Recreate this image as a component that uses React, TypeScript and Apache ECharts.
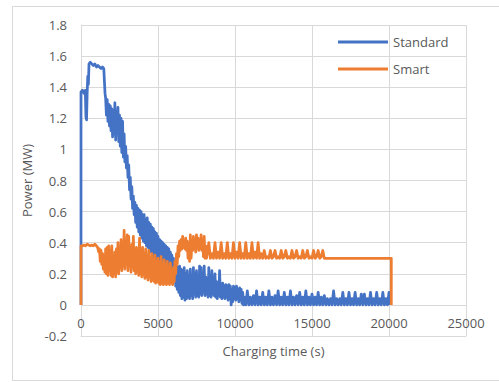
import React, { useEffect, useRef } from "react";
import * as echarts from "echarts";

const seriesNames = ["Standard", "Smart"];
const xTicks = { min: 0, max: 25000, interval: 5000 };
const yTicks = { min: -0.2, max: 1.8, interval: 0.2 };

// [charging time (s), power (MW)]
const standardData: number[][] = [
  [0, 0], [0, 1.37], [100, 1.38], [200, 1.36], [280, 1.38], [320, 1.21], [360, 1.19], [400, 1.36], [440, 1.47], [480, 1.42],
  [520, 1.55], [600, 1.56], [700, 1.55], [800, 1.54], [900, 1.55], [1000, 1.53], [1100, 1.54], [1200, 1.53], [1300, 1.52], [1400, 1.53],
  [1480, 1.52], [1520, 1.44], [1560, 1.36],
  [1600, 1.33], [1650, 1.22], [1700, 1.32], [1750, 1.18], [1800, 1.29], [1850, 1.15], [1900, 1.28], [1950, 1.12], [2000, 1.26], [2050, 1.08],
  [2100, 1.25], [2150, 1.1], [2200, 1.3], [2250, 1.06], [2300, 1.24], [2350, 1.12], [2400, 1.27], [2450, 1.05], [2500, 1.22], [2550, 1.02],
  [2600, 1.2], [2650, 0.98], [2700, 1.18], [2750, 0.95], [2800, 1.1], [2850, 0.92], [2900, 1.02], [2950, 0.88], [3000, 0.96], [3050, 0.82],
  [3100, 0.9], [3150, 0.74], [3200, 0.82], [3250, 0.68], [3300, 0.76], [3350, 0.62], [3400, 0.7], [3450, 0.58], [3500, 0.66], [3550, 0.53],
  [3600, 0.64], [3650, 0.5], [3700, 0.62], [3750, 0.47], [3800, 0.61], [3850, 0.45], [3900, 0.6], [3950, 0.43], [4000, 0.58], [4050, 0.41],
  [4100, 0.58], [4150, 0.4], [4200, 0.55], [4250, 0.38], [4300, 0.56], [4350, 0.37], [4400, 0.53], [4450, 0.36], [4500, 0.52], [4550, 0.34],
  [4600, 0.5], [4650, 0.33], [4700, 0.49], [4750, 0.31], [4800, 0.47], [4850, 0.3], [4900, 0.46], [4950, 0.28], [5000, 0.44], [5050, 0.27],
  [5100, 0.42], [5150, 0.26], [5200, 0.41], [5250, 0.24], [5300, 0.4], [5350, 0.23], [5400, 0.39], [5450, 0.22], [5500, 0.38], [5550, 0.21],
  [5600, 0.37], [5650, 0.2], [5700, 0.36], [5750, 0.19], [5800, 0.34], [5850, 0.17], [5900, 0.32], [5950, 0.16], [6000, 0.3], [6050, 0.15],
  [6100, 0.27], [6150, 0.12], [6200, 0.25], [6250, 0.1], [6300, 0.24], [6350, 0.08], [6400, 0.25], [6450, 0.06], [6500, 0.23], [6550, 0.04],
  [6600, 0.22], [6650, 0.05], [6700, 0.24], [6750, 0.03], [6800, 0.2], [6850, 0.04], [6900, 0.22], [6950, 0.05], [7000, 0.19], [7050, 0.04],
  [7100, 0.23], [7150, 0.06], [7200, 0.18], [7250, 0.04], [7300, 0.24], [7350, 0.07], [7400, 0.2], [7450, 0.05], [7500, 0.22], [7550, 0.06],
  [7600, 0.17], [7650, 0.05], [7700, 0.25], [7750, 0.07], [7800, 0.24], [7850, 0.06], [7900, 0.19], [7950, 0.08], [8000, 0.25], [8050, 0.06],
  [8100, 0.18], [8150, 0.07], [8200, 0.16], [8250, 0.05], [8300, 0.24], [8350, 0.06], [8400, 0.15], [8450, 0.05], [8500, 0.22], [8550, 0.07],
  [8600, 0.14], [8650, 0.06], [8700, 0.2], [8750, 0.05], [8800, 0.15], [8850, 0.04], [8900, 0.14], [8950, 0.06], [9000, 0.22], [9050, 0.05],
  [9100, 0.13], [9150, 0.04], [9200, 0.14], [9250, 0.05], [9300, 0.12], [9350, 0.04], [9400, 0.13], [9450, 0.05], [9500, 0.12], [9550, 0.03],
  [9600, 0.13], [9650, 0.04], [9700, 0.12], [9750, 0.0], [9800, 0.1], [9850, 0.02], [9900, 0.12], [9950, 0.04], [10000, 0.11], [10050, 0.03],
  [10100, 0.12], [10150, 0.04], [10200, 0.1], [10250, 0.02], [10300, 0.11], [10350, 0.03], [10400, 0.1], [10450, 0.01], [10500, 0.08], [10550, 0.0],
  [10600, 0.05], [10700, 0.0], [10800, 0.09], [10900, 0.0], [11000, 0.05], [11100, 0.0], [11200, 0.06], [11300, 0.0], [11400, 0.09], [11500, 0.0],
  [11600, 0.05], [11700, 0.0], [11800, 0.08], [11900, 0.0], [12000, 0.05], [12100, 0.0], [12200, 0.09], [12300, 0.0], [12400, 0.05], [12500, 0.0],
  [12600, 0.06], [12700, 0.0], [12800, 0.09], [12900, 0.0], [13000, 0.05], [13100, 0.0], [13200, 0.08], [13300, 0.0], [13400, 0.05], [13500, 0.0],
  [13600, 0.09], [13700, 0.0], [13800, 0.05], [13900, 0.0], [14000, 0.06], [14100, 0.0], [14200, 0.08], [14300, 0.0], [14400, 0.05], [14500, 0.0],
  [14600, 0.09], [14700, 0.0], [14800, 0.05], [14900, 0.0], [15000, 0.07], [15100, 0.0], [15200, 0.05], [15300, 0.0], [15400, 0.08], [15500, 0.0],
  [15600, 0.05], [15700, 0.0], [15800, 0.06], [15900, 0.0], [16000, 0.04], [16100, 0.0], [16200, 0.04], [16300, 0.0], [16400, 0.09], [16500, 0.0],
  [16600, 0.04], [16700, 0.0], [16800, 0.04], [16900, 0.0], [17000, 0.08], [17100, 0.0], [17200, 0.04], [17300, 0.0], [17400, 0.08], [17500, 0.0],
  [17600, 0.04], [17700, 0.0], [17800, 0.08], [17900, 0.0], [18000, 0.04], [18100, 0.0], [18200, 0.07], [18300, 0.0], [18400, 0.07], [18500, 0.0],
  [18600, 0.04], [18700, 0.0], [18800, 0.08], [18900, 0.0], [19000, 0.04], [19100, 0.0], [19200, 0.08], [19300, 0.0], [19400, 0.04], [19500, 0.0],
  [19600, 0.08], [19700, 0.0], [19800, 0.04], [19900, 0.0], [20000, 0.08], [20050, 0.0],
];

const smartData: number[][] = [
  [0, 0], [0, 0.38], [100, 0.38], [200, 0.385], [300, 0.38], [400, 0.39], [500, 0.385], [600, 0.38], [700, 0.385], [800, 0.38],
  [900, 0.39], [1000, 0.38], [1080, 0.37], [1150, 0.34],
  [1200, 0.36], [1250, 0.28], [1300, 0.35], [1350, 0.26], [1400, 0.33], [1450, 0.23], [1500, 0.31], [1550, 0.21], [1600, 0.36], [1650, 0.2],
  [1700, 0.37], [1750, 0.19], [1800, 0.38], [1850, 0.22], [1900, 0.35], [1950, 0.19], [2000, 0.38], [2050, 0.18], [2100, 0.3], [2150, 0.2],
  [2200, 0.34], [2250, 0.18], [2300, 0.36], [2350, 0.21], [2400, 0.4], [2450, 0.2], [2500, 0.37], [2550, 0.24], [2600, 0.42], [2650, 0.22],
  [2700, 0.38], [2750, 0.25], [2800, 0.48], [2850, 0.23], [2900, 0.4], [2950, 0.26], [3000, 0.45], [3050, 0.22], [3100, 0.44], [3150, 0.25],
  [3200, 0.36], [3250, 0.21], [3300, 0.39], [3350, 0.24], [3400, 0.44], [3450, 0.22], [3500, 0.36], [3550, 0.2], [3600, 0.37], [3650, 0.21],
  [3700, 0.34], [3750, 0.19], [3800, 0.43], [3850, 0.2], [3900, 0.35], [3950, 0.18], [4000, 0.37], [4050, 0.19], [4100, 0.33], [4150, 0.17],
  [4200, 0.36], [4250, 0.18], [4300, 0.31], [4350, 0.16], [4400, 0.35], [4450, 0.18], [4500, 0.3], [4550, 0.15], [4600, 0.33], [4650, 0.16],
  [4700, 0.29], [4750, 0.15], [4800, 0.32], [4850, 0.14], [4900, 0.28], [4950, 0.15], [5000, 0.3], [5050, 0.14], [5100, 0.27], [5150, 0.13],
  [5200, 0.31], [5250, 0.14], [5300, 0.26], [5350, 0.13], [5400, 0.29], [5450, 0.14], [5500, 0.25], [5550, 0.13], [5600, 0.28], [5650, 0.14],
  [5700, 0.24], [5750, 0.13], [5800, 0.27], [5850, 0.14], [5900, 0.22], [5950, 0.13], [6000, 0.24], [6050, 0.15], [6100, 0.28], [6150, 0.2],
  [6200, 0.33], [6250, 0.26], [6300, 0.38], [6350, 0.31], [6400, 0.41], [6450, 0.35], [6500, 0.42], [6550, 0.36], [6600, 0.44], [6650, 0.37],
  [6700, 0.4], [6750, 0.36], [6800, 0.43], [6850, 0.35], [6900, 0.41], [6950, 0.3], [7000, 0.38], [7050, 0.28], [7100, 0.45], [7150, 0.3],
  [7200, 0.4], [7250, 0.35], [7300, 0.44], [7350, 0.36], [7400, 0.41], [7450, 0.34], [7500, 0.45], [7550, 0.37], [7600, 0.43], [7650, 0.35],
  [7700, 0.4], [7750, 0.36], [7800, 0.45], [7850, 0.35], [7900, 0.42], [7950, 0.31], [8000, 0.44], [8050, 0.3], [8100, 0.38], [8150, 0.3],
  [8200, 0.33], [8300, 0.4], [8400, 0.3], [8500, 0.33], [8600, 0.3], [8700, 0.4], [8800, 0.3], [8900, 0.34], [9000, 0.3], [9100, 0.4],
  [9200, 0.3], [9300, 0.33], [9400, 0.3], [9500, 0.4], [9600, 0.3], [9700, 0.33], [9800, 0.3], [9900, 0.4], [10000, 0.3], [10100, 0.34],
  [10200, 0.3], [10300, 0.4], [10400, 0.3], [10500, 0.33], [10600, 0.3], [10700, 0.4], [10800, 0.3], [10900, 0.33], [11000, 0.3], [11100, 0.4],
  [11200, 0.3], [11300, 0.34], [11400, 0.3], [11500, 0.4], [11600, 0.3], [11700, 0.33], [11800, 0.3],
  [11900, 0.35], [12000, 0.3], [12100, 0.31], [12200, 0.3], [12300, 0.35], [12400, 0.3], [12500, 0.31], [12600, 0.35], [12700, 0.3], [12800, 0.31],
  [12900, 0.3], [13000, 0.35], [13100, 0.3], [13200, 0.31], [13300, 0.35], [13400, 0.3], [13500, 0.31], [13600, 0.3], [13700, 0.35], [13800, 0.3],
  [13900, 0.31], [14000, 0.35], [14100, 0.3], [14200, 0.31], [14300, 0.3], [14400, 0.35], [14500, 0.3], [14600, 0.31], [14700, 0.35], [14800, 0.3],
  [14900, 0.31], [15000, 0.3], [15100, 0.35], [15200, 0.3], [15300, 0.31], [15400, 0.35], [15500, 0.3], [15600, 0.31], [15700, 0.35], [15800, 0.3],
  [17000, 0.3], [20150, 0.3], [20150, 0],
];

const FONT = "'Open Sans', sans-serif";
const TEXT = "#595959";
const GRID = "#d9d9d9";
const FS = 13;

export default function App() {
  const ref = useRef<HTMLDivElement>(null);
  useEffect(() => {
    if (!ref.current) return;
    const chart = echarts.init(ref.current, undefined, { renderer: "svg" });
    chart.setOption({
      animation: false,
      backgroundColor: "#ffffff",
      textStyle: { fontFamily: FONT },
      graphic: [
        {
          type: "rect",
          shape: { x: 12.5, y: 6.5, width: 520, height: 374 },
          style: { fill: "none", stroke: GRID, lineWidth: 1 },
          silent: true,
          z: -10,
        },
      ],
      grid: { left: 81, top: 25, right: 33, bottom: 46, containLabel: false, outerBoundsMode: "none" },
      legend: {
        orient: "vertical",
        left: 338,
        top: 34.5,
        padding: 0,
        icon: "rect",
        itemWidth: 50,
        itemHeight: 3,
        itemGap: 12,
        textStyle: { color: TEXT, fontSize: FS, fontFamily: FONT, lineHeight: 15 },
        data: seriesNames,
      },
      xAxis: {
        type: "value",
        min: xTicks.min,
        max: xTicks.max,
        interval: xTicks.interval,
        name: "Charging time (s)",
        nameLocation: "middle",
        nameGap: 8,
        nameTextStyle: { color: TEXT, fontSize: FS, fontFamily: FONT },
        axisLine: { show: true, onZero: false, lineStyle: { color: GRID, width: 1 } },
        axisTick: { show: false },
        axisLabel: { color: TEXT, fontSize: FS, fontFamily: FONT, margin: -20, formatter: (v: number) => String(v) },
        splitLine: { show: true, lineStyle: { color: GRID, width: 1 } },
      },
      yAxis: {
        type: "value",
        min: yTicks.min,
        max: yTicks.max,
        interval: yTicks.interval,
        name: "Power (MW)",
        nameLocation: "middle",
        nameGap: 48,
        nameTextStyle: { color: TEXT, fontSize: FS, fontFamily: FONT },
        axisLine: { show: true, onZero: false, lineStyle: { color: GRID, width: 1 } },
        axisTick: { show: false },
        axisLabel: {
          color: TEXT,
          fontSize: FS,
          fontFamily: FONT,
          margin: 14,
          formatter: (v: number) => String(Math.round(v * 10) / 10),
        },
        splitLine: { show: true, lineStyle: { color: GRID, width: 1 } },
      },
      series: [
        {
          name: seriesNames[0],
          type: "line",
          data: standardData,
          showSymbol: false,
          symbol: "none",
          lineStyle: { color: "#4472C4", width: 2.75, join: "round" },
          itemStyle: { color: "#4472C4" },
        },
        {
          name: seriesNames[1],
          type: "line",
          data: smartData,
          showSymbol: false,
          symbol: "none",
          lineStyle: { color: "#ED7D31", width: 2.75, join: "round" },
          itemStyle: { color: "#ED7D31" },
        },
      ],
    });
    return () => chart.dispose();
  }, []);
  return (
    <div
      ref={ref}
      style={{ position: "fixed", left: 0, top: 0, width: 499, height: 382, background: "#fff" }}
    />
  );
}
